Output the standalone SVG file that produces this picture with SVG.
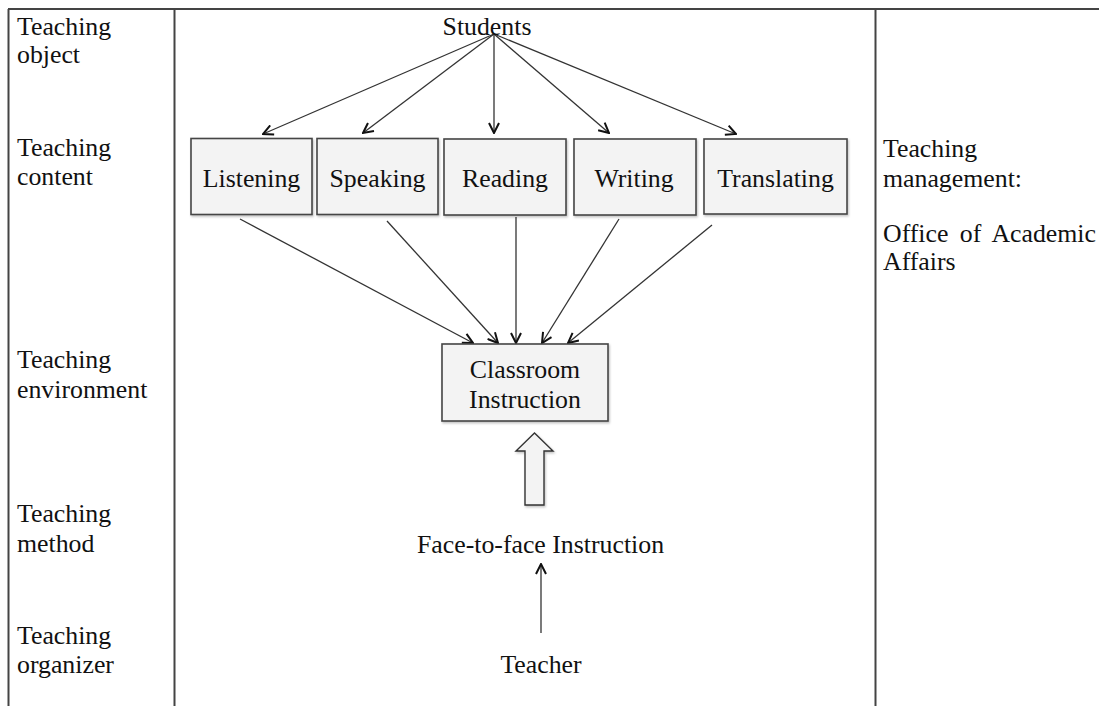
<svg xmlns="http://www.w3.org/2000/svg" width="1099" height="706" viewBox="0 0 1099 706">
  <style>
    text { font-family: "Liberation Serif", Tinos, "Times New Roman", Times, "DejaVu Serif", "Noto Serif", serif; font-size: 25.8px; fill: #111; }
    .mid { text-anchor: middle; }
    .frame { stroke: #444; stroke-width: 2; fill: none; }
    .box { fill: #f3f3f3; stroke: #444; stroke-width: 1.6; }
    .link { stroke: #333; stroke-width: 1.3; fill: none; marker-end: url(#open); }
  </style>
  <defs>
    <marker id="open" viewBox="0 0 12 12" refX="11" refY="6" markerWidth="12" markerHeight="12" markerUnits="userSpaceOnUse" orient="auto">
      <path d="M1,1 L11,6 L1,11" fill="none" stroke="#111" stroke-width="2"/>
    </marker>
    <filter id="shadow" x="-5%" y="-5%" width="115%" height="120%">
      <feDropShadow dx="1" dy="1.5" stdDeviation="1" flood-color="#000" flood-opacity="0.25"/>
    </filter>
  </defs>

  <!-- table frame -->
  <g id="frame">
    <line class="frame" x1="8" y1="9" x2="1099" y2="9"/>
    <line class="frame" x1="8.5" y1="9" x2="8.5" y2="706"/>
    <line class="frame" x1="174.5" y1="9" x2="174.5" y2="706"/>
    <line class="frame" x1="875.5" y1="9" x2="875.5" y2="706"/>
  </g>

  <g font-family="Liberation Serif, Times New Roman, serif">
  <!-- left column: layer labels -->
  <g id="row-labels">
    <text x="17" y="35">Teaching</text>
    <text x="17" y="63">object</text>
    <text x="17" y="156">Teaching</text>
    <text x="17" y="185">content</text>
    <text x="17" y="368">Teaching</text>
    <text x="17" y="398">environment</text>
    <text x="17" y="522">Teaching</text>
    <text x="17" y="552">method</text>
    <text x="17" y="644">Teaching</text>
    <text x="17" y="673">organizer</text>
  </g>

  <!-- right column -->
  <g id="management">
    <text x="883" y="157">Teaching</text>
    <text x="883" y="187">management:</text>
    <text x="883" y="242" word-spacing="5">Office of Academic</text>
    <text x="883" y="270">Affairs</text>
  </g>

  <!-- connectors -->
  <g id="connectors">
    <line class="link" x1="494" y1="34" x2="263" y2="134"/>
    <line class="link" x1="494" y1="34" x2="363" y2="133"/>
    <line class="link" x1="494" y1="34" x2="494" y2="133"/>
    <line class="link" x1="494" y1="34" x2="609" y2="133"/>
    <line class="link" x1="494" y1="34" x2="736" y2="134"/>

    <line class="link" x1="240" y1="219" x2="473" y2="343"/>
    <line class="link" x1="387" y1="221" x2="498" y2="343"/>
    <line class="link" x1="516" y1="217" x2="516" y2="343"/>
    <line class="link" x1="619" y1="219" x2="542" y2="343"/>
    <line class="link" x1="712" y1="225" x2="568" y2="343"/>

    <polygon points="534.5,433 553,451 544,451 544,505 525,505 525,451 516,451" fill="#f3f3f3" stroke="#333" stroke-width="1.4" filter="url(#shadow)"/>

    <line class="link" x1="541" y1="633" x2="541" y2="564"/>
  </g>

  <!-- nodes -->
  <g id="students">
    <text class="mid" x="487" y="35">Students</text>
  </g>
  <g id="listening">
    <rect class="box" x="191" y="138.5" width="121" height="76" filter="url(#shadow)"/>
    <text class="mid" x="251.5" y="187">Listening</text>
  </g>
  <g id="speaking">
    <rect class="box" x="317" y="138.5" width="121" height="76" filter="url(#shadow)"/>
    <text class="mid" x="377.5" y="187">Speaking</text>
  </g>
  <g id="reading">
    <rect class="box" x="444" y="139" width="122" height="76" filter="url(#shadow)"/>
    <text class="mid" x="505" y="187">Reading</text>
  </g>
  <g id="writing">
    <rect class="box" x="574" y="139" width="122" height="76" filter="url(#shadow)"/>
    <text class="mid" x="634" y="187">Writing</text>
  </g>
  <g id="translating">
    <rect class="box" x="704" y="139" width="143" height="75" filter="url(#shadow)"/>
    <text class="mid" x="775.5" y="187">Translating</text>
  </g>
  <g id="classroom">
    <rect class="box" x="442" y="344" width="166" height="77" filter="url(#shadow)"/>
    <text class="mid" x="525" y="378">Classroom</text>
    <text class="mid" x="525" y="408">Instruction</text>
  </g>
  <g id="face-to-face">
    <text class="mid" x="540.5" y="553">Face-to-face Instruction</text>
  </g>
  <g id="teacher">
    <text class="mid" x="541" y="673">Teacher</text>
  </g>
  </g>
</svg>
